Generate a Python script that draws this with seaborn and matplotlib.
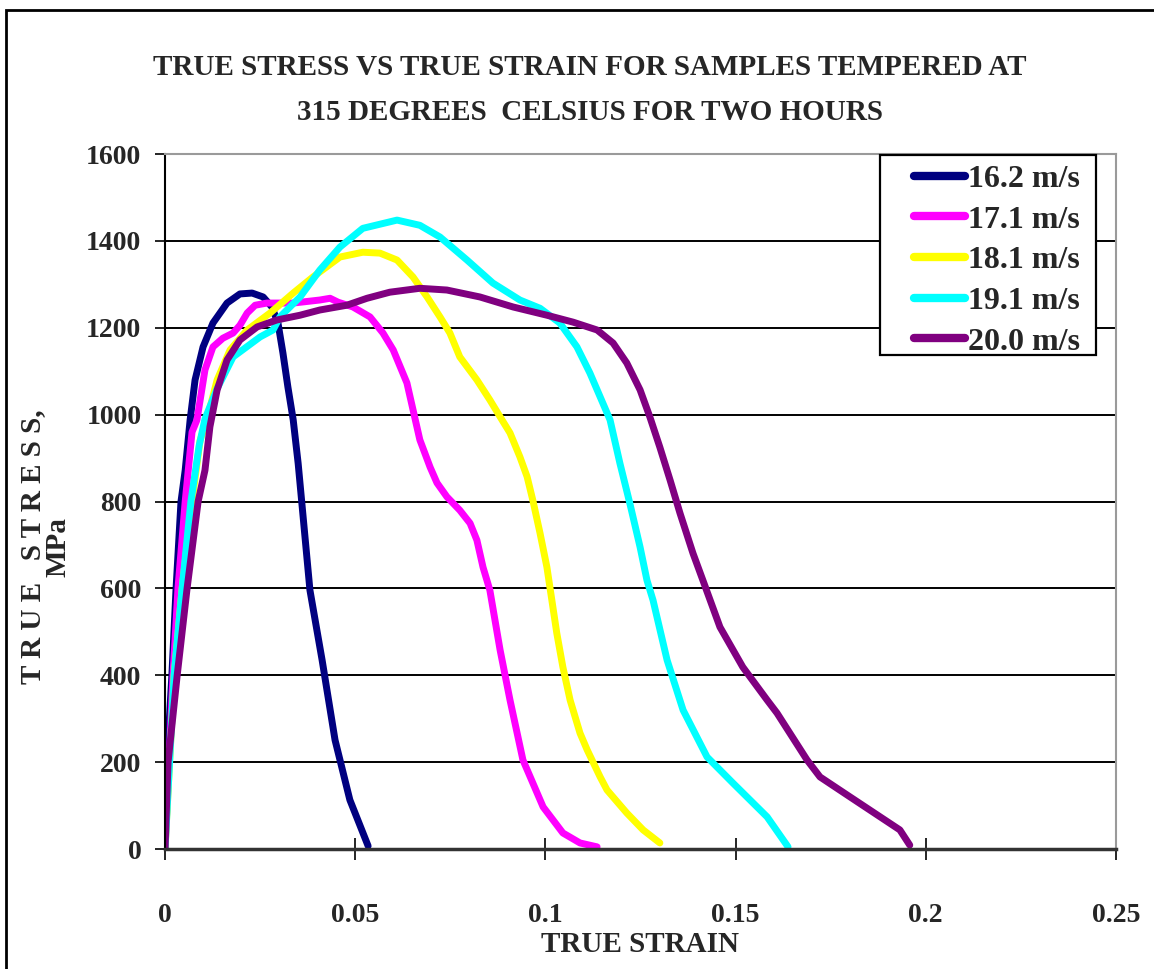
import matplotlib
matplotlib.use("Agg")
import matplotlib.pyplot as plt
import seaborn as sns
import pandas as pd
from matplotlib.patches import Rectangle

# Tensile test curves, samples tempered at 315 C for two hours
speeds = ["16.2 m/s", "17.1 m/s", "18.1 m/s", "19.1 m/s", "20.0 m/s"]
colors = ["#000080", "#FF00FF", "#FFFF00", "#00FFFF", "#800080"]

strain_162 = [0.0, 0.0005, 0.0018, 0.0029, 0.0042, 0.0053, 0.0066, 0.0079, 0.01, 0.0126,
              0.0163, 0.0197, 0.0229, 0.0258, 0.0281, 0.0297, 0.031, 0.0323, 0.0337, 0.035,
              0.0381, 0.0413, 0.0447, 0.0486, 0.0534]
stress_162 = [0, 200, 400, 600, 800, 872, 988, 1080, 1156, 1211,
              1257, 1278, 1280, 1271, 1248, 1211, 1142, 1064, 988, 888,
              596, 435, 251, 113, 7]

strain_171 = [0.0, 0.0021, 0.0034, 0.0053, 0.0071, 0.0084, 0.0105, 0.0126, 0.0152, 0.0179,
              0.0197, 0.0216, 0.0237, 0.0268, 0.0337, 0.0407, 0.0434, 0.0455, 0.0494, 0.0539,
              0.0573, 0.06, 0.0636, 0.067, 0.0697, 0.0715, 0.0741, 0.0775, 0.0802, 0.082,
              0.0836, 0.0854, 0.0881, 0.0907, 0.0941, 0.0994, 0.102, 0.1046, 0.1091, 0.1136]
stress_171 = [0, 400, 600, 800, 960, 988, 1103, 1156, 1176, 1188,
              1206, 1234, 1252, 1257, 1257, 1264, 1268, 1259, 1248, 1225,
              1188, 1149, 1073, 942, 879, 843, 811, 780, 750, 711,
              649, 596, 458, 343, 205, 97, 67, 37, 14, 5]

strain_181 = [0.0, 0.0024, 0.0045, 0.0071, 0.0092, 0.011, 0.0137, 0.0171, 0.0216, 0.0276,
              0.0337, 0.0389, 0.046, 0.052, 0.0565, 0.061, 0.0652, 0.0689, 0.0723, 0.0749,
              0.0775, 0.082, 0.0854, 0.0881, 0.0907, 0.0933, 0.0952, 0.0967, 0.0986, 0.1004,
              0.103, 0.1046, 0.1065, 0.1091, 0.111, 0.1144, 0.1162, 0.1214, 0.1257, 0.1301]
stress_181 = [0, 400, 600, 800, 940, 988, 1080, 1149, 1195, 1234,
              1280, 1317, 1363, 1374, 1372, 1356, 1317, 1271, 1225, 1188,
              1133, 1080, 1034, 995, 958, 903, 857, 803, 727, 649,
              497, 419, 343, 267, 228, 166, 136, 83, 44, 14]

strain_191 = [0.0, 0.0024, 0.0045, 0.0068, 0.009, 0.0105, 0.0137, 0.0179, 0.025, 0.0284,
              0.0302, 0.0355, 0.0407, 0.046, 0.052, 0.061, 0.067, 0.0723, 0.0794, 0.0862,
              0.0933, 0.0986, 0.1038, 0.1083, 0.1117, 0.1144, 0.117, 0.1196, 0.1222, 0.1249,
              0.1267, 0.1283, 0.132, 0.1362, 0.1425, 0.1493, 0.1583, 0.1638]
stress_191 = [0, 400, 600, 800, 930, 990, 1060, 1133, 1179, 1195,
              1225, 1271, 1333, 1386, 1429, 1448, 1436, 1409, 1356, 1303,
              1264, 1245, 1211, 1156, 1096, 1041, 988, 888, 796, 695,
              619, 573, 435, 320, 212, 152, 74, 5]

strain_200 = [0.0, 0.0008, 0.0032, 0.0058, 0.0087, 0.0105, 0.0118, 0.0137, 0.0163, 0.0197,
              0.0242, 0.0294, 0.0355, 0.0407, 0.0478, 0.0531, 0.0591, 0.067, 0.0741, 0.0828,
              0.0915, 0.1004, 0.1073, 0.1136, 0.1178, 0.1214, 0.1249, 0.1275, 0.1301, 0.1328,
              0.1354, 0.1388, 0.1414, 0.1459, 0.1519, 0.1583, 0.1609, 0.1688, 0.1722, 0.1801,
              0.1932, 0.1958]
stress_200 = [0, 200, 400, 600, 800, 872, 972, 1057, 1126, 1172,
              1202, 1218, 1229, 1241, 1252, 1268, 1282, 1291, 1287, 1271,
              1248, 1229, 1213, 1195, 1165, 1119, 1057, 994, 925, 849,
              773, 681, 619, 511, 419, 343, 313, 205, 166, 120,
              44, 9]

series = [
    (strain_162, stress_162),
    (strain_171, stress_171),
    (strain_181, stress_181),
    (strain_191, stress_191),
    (strain_200, stress_200),
]

frames = []
for name, (xs, ys) in zip(speeds, series):
    frames.append(pd.DataFrame({"strain": xs, "stress": ys, "speed": name}))
df = pd.concat(frames, ignore_index=True)

sns.set_theme(style="white")
plt.rcParams["font.family"] = ["Liberation Serif", "DejaVu Serif"]
plt.rcParams["font.weight"] = "bold"

fig = plt.figure(figsize=(11.54, 9.69), dpi=100)
ax = fig.add_axes([0.143, 0.1238, 0.824, 0.7172])

# Horizontal gridlines at every 200 MPa
for yv in range(200, 1600, 200):
    ax.axhline(yv, color="black", lw=1.4, zorder=0)

sns.lineplot(data=df, x="strain", y="stress", hue="speed", hue_order=speeds,
             palette=colors, sort=False, estimator=None, lw=5.0, ax=ax, legend=True)
for ln in ax.get_lines():
    ln.set_solid_joinstyle("round")
    ln.set_solid_capstyle("round")

ax.set_xlim(0, 0.25)
ax.set_ylim(0, 1600)
ax.set_xticks([0, 0.05, 0.1, 0.15, 0.2, 0.25])
ax.set_xticklabels(["0", "0.05", "0.1", "0.15", "0.2", "0.25"])
ax.set_yticks(range(0, 1601, 200))

for side in ["top", "right"]:
    ax.spines[side].set_color("#9a9a9a")
    ax.spines[side].set_linewidth(1.5)
ax.spines["left"].set_color("black")
ax.spines["left"].set_linewidth(1.5)
ax.spines["bottom"].set_color("#333333")
ax.spines["bottom"].set_linewidth(2.5)

ax.tick_params(axis="x", direction="inout", length=16, width=1.2, color="black",
               pad=31, labelsize=20, bottom=True)
ax.tick_params(axis="y", direction="out", length=7, width=1.2, color="black",
               pad=10, labelsize=20, left=True)
for lbl in ax.get_xticklabels() + ax.get_yticklabels():
    lbl.set_fontweight("bold")

ax.set_xlabel("TRUE STRAIN", fontsize=21, fontweight="bold", labelpad=2)
ax.set_ylabel("T R U E   S T R E S S,\nMPa", fontsize=21, fontweight="bold",
              linespacing=0.95)
# anchor is the right-hand edge of the rotated two-line block
ax.yaxis.set_label_coords(-0.098, 0.435)

# Legend box with white fill over the gridlines
ax.add_patch(Rectangle((0.7518, 0.7108), 0.2271, 0.2878, transform=ax.transAxes,
                       facecolor="white", edgecolor="black", lw=1.6, zorder=4.5,
                       clip_on=False))
leg = ax.legend(loc="upper left", bbox_to_anchor=(0.7875, 0.985), fontsize=23,
                handlelength=1.6, handletextpad=0.1, borderpad=0.0,
                borderaxespad=0.0, labelspacing=0.355, frameon=False)
leg.set_zorder(5)
for t in leg.get_texts():
    t.set_fontweight("bold")
for h in leg.get_lines():
    h.set_linewidth(6)
    h.set_solid_capstyle("round")

fig.text(0.511, 0.930, "TRUE STRESS VS TRUE STRAIN FOR SAMPLES TEMPERED AT",
         ha="center", va="center", fontsize=21, fontweight="bold")
fig.text(0.511, 0.8835, "315 DEGREES  CELSIUS FOR TWO HOURS",
         ha="center", va="center", fontsize=21, fontweight="bold")

# Outer chart frame
fig.patches.append(Rectangle((0.0055, -0.05), 1.1, 1.0395, transform=fig.transFigure,
                             fill=False, edgecolor="black", lw=2))

fig.savefig("out.png", dpi=100)
